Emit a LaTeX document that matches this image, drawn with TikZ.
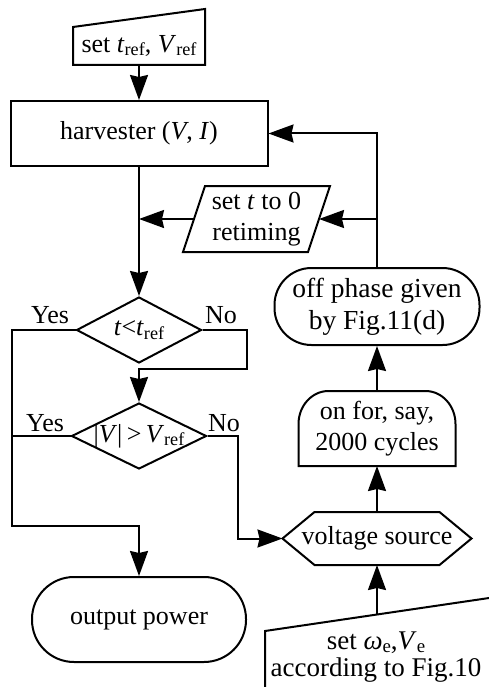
\documentclass[tikz,border=0pt]{standalone}
\usepackage{fontspec}
\setmainfont{Liberation Serif}
\usepackage{graphicx}
\usetikzlibrary{arrows.meta,shapes.geometric}
% lowered, reduced subscript for text-mode symbols
\newcommand\lowsub[1]{\raisebox{-0.13em}{\scalebox{0.7}{#1}}}

\begin{document}
\begin{tikzpicture}[x=1pt,y=-1pt,
  line width=2pt,
  arr/.style={-{Stealth[length=25pt,width=18pt,inset=2pt]}},
  txt/.style={font=\fontsize{26}{31}\selectfont, inner sep=0pt, align=center},
  box/.style={draw, txt, rectangle},
  frame/.style={rectangle, txt},
  dec/.style={diamond, draw, inner sep=0pt},
]
\useasboundingbox (0,0) rectangle (489,687);

% manual input: reference values
\node[frame, minimum width=130pt, minimum height=36pt] (inp) at (139,46)
  {set \textit{t}\lowsub{ref}, \textit{V}\lowsub{ref}};
\draw (inp.south west) -- (inp.north west) -- ([yshift=18pt]inp.north east)
  -- (inp.south east) -- cycle;

% process: harvester
\node[box, minimum width=257pt, minimum height=65pt] (harv) at (139,133.5)
  {harvester (\textit{V}, \textit{I})};

% data: reset timer
\node[frame, minimum width=123pt, minimum height=64pt] (par) at (256.5,219)
  {set \textit{t} to 0\\retiming};
\draw ([xshift=11pt]par.north west) -- ([xshift=11pt]par.north east)
  -- ([xshift=-11pt]par.south east) -- ([xshift=-11pt]par.south west) -- cycle;

% decisions
\node[dec, minimum width=125pt, minimum height=66pt,
  label={[txt]center:{\textit{t}<\textit{t}\lowsub{ref}}}] (d1) at (139,330) {};
\node[dec, minimum width=135pt, minimum height=66pt,
  label={[txt]center:{|\textit{V}|\,>\,\textit{V}\lowsub{ref}}}] (d2) at (139,436) {};

\node[txt] (y1) at (50,315) {Yes};
\node[txt] (n1) at (221,315) {No};
\node[txt] (y2) at (45,423) {Yes};
\node[txt] (n2) at (224,423) {No};

% source branch
\node[draw, txt, rectangle, rounded corners=37pt, minimum width=205pt,
  minimum height=77pt, font=\fontsize{27.5}{32}\selectfont] (off) at (377,306.5)
  {off phase given\\by Fig.11(d)};

\node[frame, minimum width=155pt, minimum height=73pt] (onf) at (377,428.5)
  {on for, say,\\2000 cycles};
\draw (onf.south west) -- ([yshift=-33pt]onf.north west)
  arc[start angle=180, end angle=90, x radius=30pt, y radius=33pt]
  -- ([xshift=-30pt]onf.north east)
  arc[start angle=90, end angle=0, x radius=30pt, y radius=33pt]
  -- (onf.south east) -- cycle;

\node[frame, minimum width=187pt, minimum height=51pt] (vs) at (377,538.5)
  {voltage source};
\draw ([xshift=32pt]vs.north west) -- ([xshift=-32pt]vs.north east) -- (vs.east)
  -- ([xshift=-32pt]vs.south east) -- ([xshift=32pt]vs.south west) -- (vs.west) -- cycle;

% terminal
\node[draw, txt, rectangle, rounded corners=42pt, minimum width=214pt,
  minimum height=85pt] (out) at (139,619.5) {output power};

% manual input: excitation settings
\begin{scope}
  \clip (0,0) rectangle (489,687);
  \draw (265,700) -- (265,631) -- (511.4,594.7);
\end{scope}
\coordinate (bin) at (377,614.5);
\node[txt, font=\fontsize{27}{27}\selectfont] (bt) at (376,657)
  {set \textit{ω}\lowsub{e},\textit{V}\lowsub{e}\\according to Fig.10};

% connectors
\coordinate (yl) at (12,526);
\coordinate (nr) at (247,369);
\coordinate (nv) at (238,0);

\draw[arr] (inp.south) -- (inp.south |- harv.north);
\draw[arr] (harv.south -| d1.north) -- (d1.north);
\draw[arr] (par.west) -- (par.west -| d1.north);
\draw[arr] (off.north) |- (harv.east);
\draw[arr] (off.north |- par.east) -- (par.east);
\draw[arr] (d1.west) -| (yl) -| (out.north);
\draw (d2.west) -- (d2.west -| yl);
\draw[arr] (d1.east) -| (nr) -| (d2.north);
\draw[arr] (d2.east) -| (nv |- vs.west) -- (vs.west);
\draw[arr] (vs.north) -- (onf.south);
\draw[arr] (onf.north) -- (off.south);
\draw[arr] (bin) -- (vs.south);
\end{tikzpicture}
\end{document}
